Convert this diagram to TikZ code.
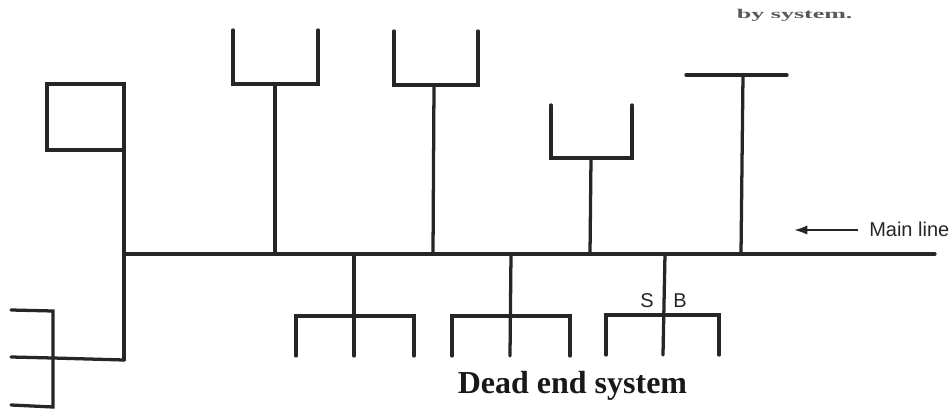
\documentclass[tikz,border=0pt]{standalone}
\usepackage{fontspec}
\setmainfont{Liberation Serif}
\newfontfamily\labelsans{Liberation Sans}
\usetikzlibrary{arrows.meta}
\tikzset{
  pipe/.style={draw=black!85,line width=2.45pt,line cap=round,line join=miter},
  thinarrow/.style={draw=black!85,line width=1.6pt,-{Latex[length=10pt,width=7pt]}},
  sanslabel/.style={font=\labelsans\fontsize{15}{17}\selectfont,text=black!85,inner sep=0pt},
  titlelabel/.style={font=\bfseries\fontsize{24}{27}\selectfont,text=black!90,inner sep=0pt},
  cutlabel/.style={font=\bfseries\fontsize{10}{12}\selectfont,text=black!65,inner sep=0pt}
}
\begin{document}
\begin{tikzpicture}[x=0.75pt,y=-0.75pt]
\useasboundingbox (0,0) rectangle (950,410);
% main line
\coordinate (mainL) at (124,254);
\coordinate (mainR) at (935,254);
\draw[pipe] (mainL) -- (mainR);
% left riser and loop
\coordinate (rTop) at (124,84);
\coordinate (rBot) at (124,360);
\coordinate (boxTL) at (47,84);
\coordinate (boxBL) at (47,150);
\coordinate (boxBR) at (124,150);
\draw[pipe] (boxBR) -- (boxBL) -- (boxTL) -- (rTop) -- (rBot);
% lower left comb
\coordinate (cJ) at (53,358);
\coordinate (cT) at (53,311);
\coordinate (cB) at (53,407);
\coordinate (cTL) at (11,310);
\coordinate (cML) at (11,357);
\coordinate (cBL) at (11,405);
\draw[pipe] (rBot) -- (cJ) -- (cML);
\draw[pipe] (cTL) -- (cT) -- (cB) -- (cBL);
% upper branches
\coordinate (u1a) at (233,30); \coordinate (u1b) at (233,84);
\coordinate (u1c) at (318,84); \coordinate (u1d) at (318,30);
\coordinate (u1s) at (275,84); \coordinate (u1m) at (275,254);
\draw[pipe] (u1a) -- (u1b) -- (u1c) -- (u1d);
\draw[pipe] (u1s) -- (u1m);
\coordinate (u2a) at (394,31); \coordinate (u2b) at (394,85);
\coordinate (u2c) at (478,85); \coordinate (u2d) at (478,31);
\coordinate (u2s) at (434,85); \coordinate (u2m) at (433,254);
\draw[pipe] (u2a) -- (u2b) -- (u2c) -- (u2d);
\draw[pipe] (u2s) -- (u2m);
\coordinate (u3a) at (551,105); \coordinate (u3b) at (551,158);
\coordinate (u3c) at (632,158); \coordinate (u3d) at (632,105);
\coordinate (u3s) at (591,158); \coordinate (u3m) at (590,254);
\draw[pipe] (u3a) -- (u3b) -- (u3c) -- (u3d);
\draw[pipe] (u3s) -- (u3m);
\coordinate (tL) at (686,75); \coordinate (tR) at (787,75);
\coordinate (tS) at (743,75); \coordinate (tM) at (741,254);
\draw[pipe] (tL) -- (tR);
\draw[pipe] (tS) -- (tM);
% lower branches
\coordinate (d1m) at (354,254); \coordinate (d1e) at (354,356);
\coordinate (d1a) at (296,356); \coordinate (d1b) at (296,316);
\coordinate (d1c) at (414,316); \coordinate (d1d) at (414,356);
\draw[pipe] (d1m) -- (d1e);
\draw[pipe] (d1a) -- (d1b) -- (d1c) -- (d1d);
\coordinate (d2m) at (511,254); \coordinate (d2e) at (510,356);
\coordinate (d2a) at (452,356); \coordinate (d2b) at (452,316);
\coordinate (d2c) at (570,316); \coordinate (d2d) at (570,356);
\draw[pipe] (d2m) -- (d2e);
\draw[pipe] (d2a) -- (d2b) -- (d2c) -- (d2d);
\coordinate (d3m) at (665,254); \coordinate (d3e) at (663,355);
\coordinate (d3a) at (606,355); \coordinate (d3b) at (606,315);
\coordinate (d3c) at (719,315); \coordinate (d3d) at (719,355);
\draw[pipe] (d3m) -- (d3e);
\draw[pipe] (d3a) -- (d3b) -- (d3c) -- (d3d);
% labels
\node[sanslabel] (sLabel) at (647,301) {S};
\node[sanslabel] (bLabel) at (680,301) {B};
\node[sanslabel,anchor=west] (mainLabel) at (869,229.5) {Main line};
\coordinate (arrowTail) at (858,230);
\coordinate (arrowHead) at (794,230);
\draw[thinarrow] (arrowTail) -- (arrowHead);
\node[titlelabel] (deadEnd) at (572.5,386) {Dead end system};
% faint text at the top edge of the scan
\node[cutlabel,anchor=base east,xscale=1.95,transform shape] (topText) at (853,19) {by system.};
\end{tikzpicture}
\end{document}
